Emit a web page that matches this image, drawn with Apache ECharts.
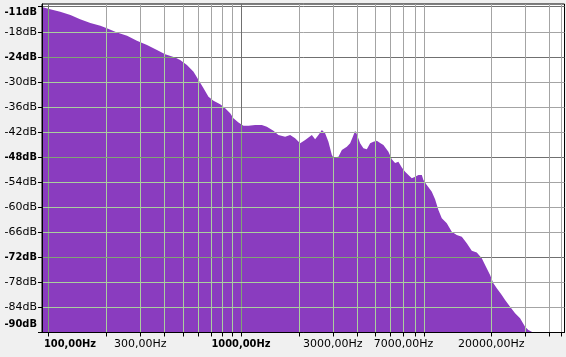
<!DOCTYPE html>
<html><head><meta charset="utf-8">
<script src="https://cdn.jsdelivr.net/npm/echarts@6/dist/echarts.min.js"></script>
<style>html,body{margin:0;padding:0;background:#f0f0f0;overflow:hidden}#c{width:566px;height:357px}</style>
</head><body><div id="c"></div>
<script>
// Spectrum: frequency (Hz) and level (dB)
const freqHz = [92.5,102,115,130,146,165,186,201,227,256,288,325,366,404,455,483,524,567,602,639,678,720,780,828,879,914,971,1030,1094,1185,1284,1363,1475,1566,1697,1801,1912,2030,2156,2335,2429,2527,2633,2738,2848,2967,3023,3210,3344,3549,3693,3814,3920,4001,4162,4329,4508,4691,4878,5082,5286,5500,5838,6080,6324,6579,6853,7129,7417,7725,8034,8357,8706,8872,9242,9810,10204,10617,11057,11737,12460,13230,14046,14911,15830,16805,17840,18561,19703,20498,21350,22660,23580,25030,26580,28210,29950,31150,32450,32700];
const levelDb = [-11.9,-12.4,-13.0,-13.8,-14.8,-15.7,-16.4,-17.0,-18.0,-18.8,-20.0,-21.0,-22.2,-23.2,-24.0,-24.6,-25.8,-27.4,-29.4,-31.4,-33.4,-34.4,-35.2,-36.2,-37.4,-38.6,-39.6,-40.4,-40.4,-40.2,-40.2,-40.6,-41.6,-42.6,-43.0,-42.6,-43.4,-44.6,-43.8,-42.6,-43.6,-42.6,-41.4,-42.2,-44.2,-47.4,-48.0,-47.8,-46.2,-45.4,-44.6,-43.0,-41.6,-42.4,-44.6,-45.8,-46.0,-44.6,-44.2,-44.0,-44.5,-45.0,-46.6,-48.4,-49.3,-49.0,-50.4,-51.4,-52.2,-53.0,-52.6,-52.2,-52.2,-53.4,-54.6,-56.2,-58.0,-60.6,-62.6,-63.8,-65.8,-66.6,-67.0,-68.6,-70.4,-70.8,-72.2,-73.8,-76.2,-78.2,-79.4,-81.0,-82.2,-83.8,-85.4,-86.6,-88.6,-89.4,-89.8,-92];

// Axis ticks / grid / labels
const xGridHz = [100,200,300,400,500,600,700,800,900,1000,2000,3000,4000,5000,6000,7000,8000,9000,20000,30000,40000,46000];
const xMajorHz = [100,1000];
const xLabelHz = [100,300,1000,3000,7000,20000];
const yGridDb = [-90,-84,-78,-72,-66,-60,-54,-48,-42,-36,-30,-24,-18,-11.8];
const yMajorDb = [-90,-72,-48,-24,-11.8];
const yLabelDb = [-90,-84,-78,-72,-66,-60,-54,-48,-42,-36,-30,-24,-18,-11.8];

const X_MIN = 92.5, X_MAX = 48000, Y_MIN = -90, Y_MAX = -11.16;
const PURPLE = '#8a3cbf';
const GRID_GRAY = '#a4a4a4', GRID_GRAY_MAJ = '#707070';
const GRID_GREEN = '#a9cf9d', GRID_GREEN_MAJ = '#80a474';

const isMajX = v => xMajorHz.includes(Math.round(v));
const isMajY = v => yMajorDb.some(m => Math.abs(m - v) < 0.01);

const fontN = {fontFamily:'DejaVu Sans', fontSize:11, color:'#000'};
const fontB = {fontFamily:'DejaVu Sans Condensed, DejaVu Sans', fontWeight:'bold', fontSize:11, color:'#000'};

const chart = echarts.init(document.getElementById('c'), null, {renderer:'canvas'});
const gridCfg = {left:42, right:1.5, top:4, bottom:24.5, show:true, borderColor:'#000', borderWidth:1, backgroundColor:'#fff'};

const option = {
  animation:false,
  backgroundColor:'#f0f0f0',
  grid: gridCfg,
  xAxis: [
    { type:'log', logBase:10, min:X_MIN, max:X_MAX, position:'bottom', z:3,
      axisLine:{show:true, onZero:false, lineStyle:{color:'#000', width:1}},
      axisTick:{show:true, length:4, customValues:xGridHz, lineStyle:{color:'#000'}},
      axisLabel:{show:true, margin:6, customValues:xLabelHz,
        formatter: v => { const r = Math.round(v); const t = r + ',00Hz';
          if (r === 100) return '{bl|' + t + '}';
          if (isMajX(r)) return '{b|' + t + '}';
          return '{n|' + t + '}'; },
        rich:{ n:fontN, b:fontB, bl:Object.assign({}, fontB, {padding:[0,0,0,43]}) } },
      splitLine:{show:false}, minorTick:{show:false} },
    { type:'log', logBase:10, min:X_MIN, max:X_MAX, position:'bottom', z:0,
      axisLine:{show:false}, axisLabel:{show:false},
      axisTick:{show:false, customValues:xGridHz},
      splitLine:{show:true, lineStyle:{width:1, color: xGridHz.map(v => isMajX(v) ? GRID_GRAY_MAJ : GRID_GRAY)}} }
  ],
  yAxis: [
    { type:'value', min:Y_MIN, max:Y_MAX, position:'left', z:3,
      axisLine:{show:true, onZero:false, lineStyle:{color:'#000', width:1}},
      axisTick:{show:true, length:4, customValues:yGridDb, lineStyle:{color:'#000'}},
      axisLabel:{show:true, margin:5, customValues:yLabelDb,
        formatter: v => { const t = Math.trunc(Math.round(v*10)/10) + 'dB';
          if (Math.abs(v - Math.max(...yLabelDb)) < 0.01) return '{bt|' + t + '}';
          if (Math.abs(v - Math.min(...yLabelDb)) < 0.01) return '{bb|' + t + '}';
          if (isMajY(v)) return '{b|' + t + '}';
          return '{n|' + t + '}'; },
        rich:{ n:fontN, b:fontB,
          bt:Object.assign({}, fontB, {padding:[11,0,0,0]}),
          bb:Object.assign({}, fontB, {padding:[0,0,16,0]}) } },
      splitLine:{show:false} },
    { type:'value', min:Y_MIN, max:Y_MAX, position:'left', z:0,
      axisLine:{show:false}, axisLabel:{show:false},
      axisTick:{show:false, customValues:yGridDb},
      splitLine:{show:true, lineStyle:{width:1, color: yGridDb.map(v => isMajY(v) ? GRID_GRAY_MAJ : GRID_GRAY)}} }
  ],
  series: [{
    type:'line', xAxisIndex:0, yAxisIndex:0, z:2,
    data: freqHz.map((f, i) => [f, levelDb[i]]),
    symbol:'none', showSymbol:false, silent:true, clip:true,
    lineStyle:{width:0, opacity:0},
    areaStyle:{color:PURPLE, opacity:1, origin:'start'}
  }]
};
chart.setOption(option);

// Gridlines inside the filled area are drawn as part of the fill pattern
function pixelOf(p){ const d = Math.round(p*2); const q = (d % 2 !== 0) ? d/2 : (d+1)/2; return Math.floor(q); }
const W = 566, H = 357;
const cv = document.createElement('canvas'); cv.width = W; cv.height = H;
const ctx = cv.getContext('2d');
ctx.fillStyle = PURPLE; ctx.fillRect(0,0,W,H);
xGridHz.forEach(f => {
  const p = chart.convertToPixel({xAxisIndex:0}, f);
  ctx.fillStyle = isMajX(f) ? GRID_GREEN_MAJ : GRID_GREEN;
  ctx.fillRect(pixelOf(p), 0, 1, H);
});
yGridDb.forEach(v => {
  const p = chart.convertToPixel({yAxisIndex:0}, v);
  ctx.fillStyle = isMajY(v) ? GRID_GREEN_MAJ : GRID_GREEN;
  ctx.fillRect(0, pixelOf(p), W, 1);
});
chart.setOption({series:[{areaStyle:{color:{image:cv, repeat:'no-repeat'}}}]});
</script>
</body></html>
